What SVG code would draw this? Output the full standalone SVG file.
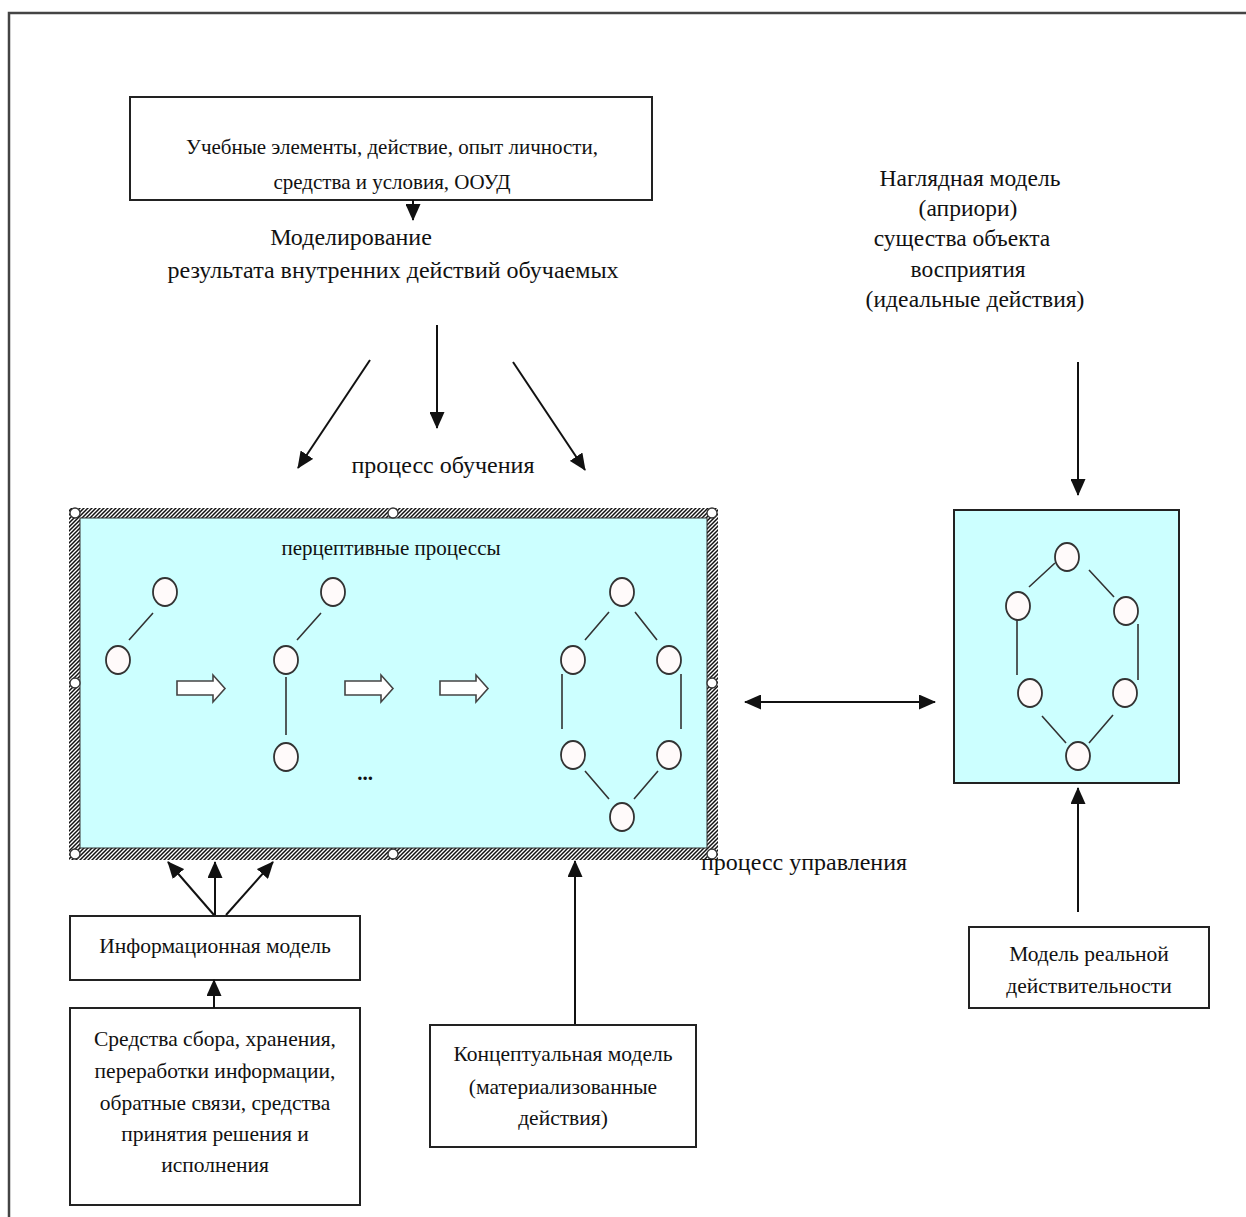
<svg xmlns="http://www.w3.org/2000/svg" width="1246" height="1217" viewBox="0 0 1246 1217">
<defs>
<style>
.t{font-family:"Liberation Serif","Times New Roman",serif;fill:#111;text-anchor:middle}
.fb{font-size:21.5px}.fm{font-size:21px}.fl{font-size:24px}.fv{font-size:23.5px}
.box{fill:#fff;stroke:#222;stroke-width:2}
.arr{stroke:#111;stroke-width:2;fill:none;marker-end:url(#ah)}
.edge{stroke:#333;stroke-width:1.6;fill:none}
.nd{fill:#fffafa;stroke:#333;stroke-width:1.8}
.hol{fill:#fff;stroke:#444;stroke-width:1.6}
.hdl{fill:#fff;stroke:#333;stroke-width:1.3}
</style>
<marker id="ah" markerUnits="userSpaceOnUse" markerWidth="17" markerHeight="15" refX="16" refY="7.5" orient="auto-start-reverse">
<path d="M0,0 L17,7.5 L0,15 z" fill="#111"/>
</marker>
<pattern id="hatch" width="4" height="4" patternUnits="userSpaceOnUse">
<rect width="4" height="4" fill="#fff"/>
<path d="M-1,1 L1,-1 M0,4 L4,0 M3,5 L5,3" stroke="#111" stroke-width="1.5"/>
</pattern>
</defs>
<rect width="1246" height="1217" fill="#fff"/>
<path d="M9,1217 V13 H1246" fill="none" stroke="#444" stroke-width="2.5"/>

<g id="top-box">
<rect class="box" x="130" y="97" width="522" height="103"/>
<text class="t fm" x="392" y="154">Учебные  элементы, действие, опыт  личности,</text>
<text class="t fm" x="392" y="189">средства и условия, ООУД</text>
</g>

<g id="modeling-label">
<text class="t fl" x="351" y="245">Моделирование</text>
<text class="t fl" x="393" y="278">результата внутренних действий обучаемых</text>
</g>

<g id="learning-label">
<text class="t fl" x="443" y="473">процесс обучения</text>
</g>

<g id="perceptive-box">
<rect x="69" y="508" width="649" height="352" fill="url(#hatch)"/>
<rect x="80" y="518" width="627" height="330" fill="#ccffff" stroke="#333" stroke-width="1"/>
<circle class="hdl" cx="75" cy="513" r="5"/>
<circle class="hdl" cx="393" cy="513" r="5"/>
<circle class="hdl" cx="712" cy="513" r="5"/>
<circle class="hdl" cx="75" cy="683" r="5"/>
<circle class="hdl" cx="712" cy="683" r="5"/>
<circle class="hdl" cx="75" cy="854" r="5"/>
<circle class="hdl" cx="393" cy="854" r="5"/>
<circle class="hdl" cx="712" cy="854" r="5"/>
<text class="t fm" x="391" y="555">перцептивные процессы</text>
<path class="edge" d="M153,613 L129,640 M321,613 L297,640 M286,677 V735"/>
<ellipse class="nd" cx="165" cy="592" rx="12" ry="14"/>
<ellipse class="nd" cx="118" cy="660" rx="12" ry="14"/>
<ellipse class="nd" cx="333" cy="592" rx="12" ry="14"/>
<ellipse class="nd" cx="286" cy="660" rx="12" ry="14"/>
<ellipse class="nd" cx="286" cy="757" rx="12" ry="14"/>
<path class="hol" d="M177,681 H213 V675 L225,688.5 L213,702 V695 H177 z"/>
<path class="hol" d="M345,681 H381 V675 L393,688.5 L381,702 V695 H345 z"/>
<path class="hol" d="M440,681 H476 V675 L488,688.5 L476,702 V695 H440 z"/>
<text class="t fm" x="365" y="780" style="font-weight:bold">...</text>
<path class="edge" d="M609,612 L585,640 M635,612 L657,640 M562,674 V729 M681,674 V729 M585,771 L609,799 M658,771 L634,799"/>
<ellipse class="nd" cx="622" cy="592" rx="12" ry="14"/>
<ellipse class="nd" cx="573" cy="660" rx="12" ry="14"/>
<ellipse class="nd" cx="669" cy="660" rx="12" ry="14"/>
<ellipse class="nd" cx="573" cy="755" rx="12" ry="14"/>
<ellipse class="nd" cx="669" cy="755" rx="12" ry="14"/>
<ellipse class="nd" cx="622" cy="817" rx="12" ry="14"/>
</g>

<g id="control-label">
<text class="t fl" x="804" y="870">процесс управления</text>
</g>

<g id="visual-model-label">
<text class="t fv" x="970" y="186">Наглядная модель</text>
<text class="t fv" x="968" y="216">(априори)</text>
<text class="t fv" x="962" y="246">существа объекта</text>
<text class="t fv" x="968" y="277">восприятия</text>
<text class="t fv" x="975" y="307">(идеальные действия)</text>
</g>

<g id="ideal-box">
<rect x="954" y="510" width="225" height="273" fill="#ccffff" stroke="#222" stroke-width="2"/>
<path class="edge" d="M1055,563 L1029,587 M1089,570 L1114,597 M1017,620 V675 M1138,624 V680 M1042,716 L1066,743 M1113,715 L1089,743"/>
<ellipse class="nd" cx="1067" cy="557" rx="12" ry="14"/>
<ellipse class="nd" cx="1018" cy="606" rx="12" ry="14"/>
<ellipse class="nd" cx="1126" cy="611" rx="12" ry="14"/>
<ellipse class="nd" cx="1030" cy="693" rx="12" ry="14"/>
<ellipse class="nd" cx="1125" cy="693" rx="12" ry="14"/>
<ellipse class="nd" cx="1078" cy="756" rx="12" ry="14"/>
</g>

<g id="reality-box">
<rect class="box" x="969" y="927" width="240" height="81"/>
<text class="t fb" x="1089" y="961">Модель реальной</text>
<text class="t fb" x="1089" y="993">действительности</text>
</g>

<g id="info-box">
<rect class="box" x="70" y="916" width="290" height="64"/>
<text class="t fb" x="215" y="953">Информационная модель</text>
</g>

<g id="means-box">
<rect class="box" x="70" y="1008" width="290" height="197"/>
<text class="t fb" x="215" y="1046">Средства сбора, хранения,</text>
<text class="t fb" x="215" y="1078">переработки информации,</text>
<text class="t fb" x="215" y="1110">обратные связи, средства</text>
<text class="t fb" x="215" y="1141">принятия решения и</text>
<text class="t fb" x="215" y="1172">исполнения</text>
</g>

<g id="concept-box">
<rect class="box" x="430" y="1025" width="266" height="122"/>
<text class="t fb" x="563" y="1061">Концептуальная модель</text>
<text class="t fb" x="563" y="1094">(материализованные</text>
<text class="t fb" x="563" y="1125">действия)</text>
</g>

<g id="connectors">
<line class="arr" x1="413" y1="200" x2="413" y2="220"/>
<line class="arr" x1="370" y1="360" x2="298" y2="468"/>
<line class="arr" x1="437" y1="325" x2="437" y2="428"/>
<line class="arr" x1="513" y1="362" x2="585" y2="470"/>
<line class="arr" x1="1078" y1="362" x2="1078" y2="495"/>
<line class="arr" x1="1078" y1="912" x2="1078" y2="788"/>
<line class="arr" x1="745" y1="702" x2="935" y2="702" style="marker-start:url(#ah)"/>
<line class="arr" x1="575" y1="1024" x2="575" y2="861"/>
<line class="arr" x1="214" y1="915" x2="168" y2="862"/>
<line class="arr" x1="215" y1="915" x2="215" y2="862"/>
<line class="arr" x1="226" y1="915" x2="273" y2="862"/>
<line class="arr" x1="214" y1="1008" x2="214" y2="980"/>
</g>
</svg>
